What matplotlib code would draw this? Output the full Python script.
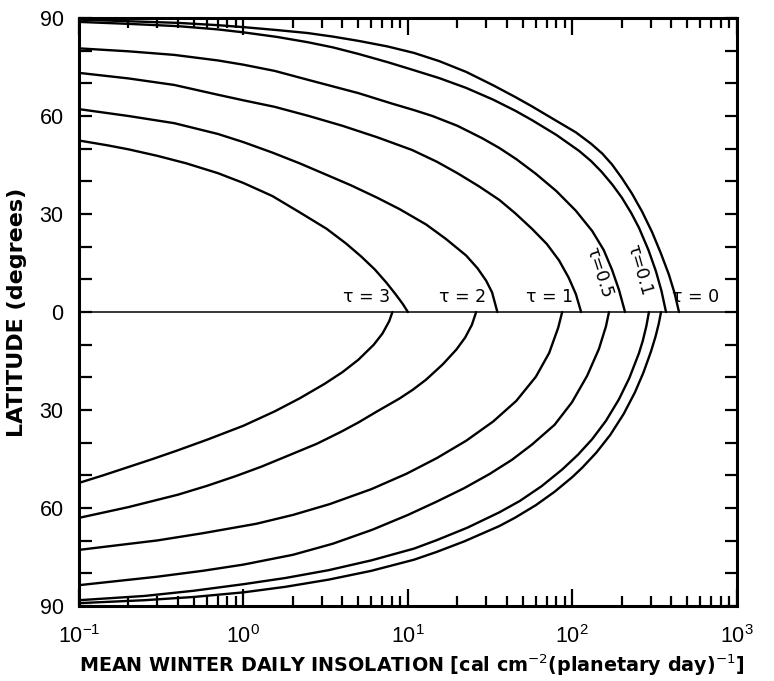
import matplotlib
matplotlib.use("Agg")
import matplotlib.pyplot as plt
from matplotlib.ticker import MultipleLocator, FuncFormatter, LogLocator

# northern (upper) branches: insolation vs latitude, one pair per optical depth
n3_x = [0.1, 0.15, 0.2, 0.3, 0.45, 0.7, 1.0, 1.5, 2.2, 3.2, 4.2, 5.2, 6.3, 7.4, 8.4, 9.3, 10]
n3_lat = [52.5, 51, 49.8, 47.8, 45.5, 42.5, 39.5, 35.5, 30.5, 25.5, 21, 17, 13, 9, 5.5, 2.5, 0]
n2_x = [0.1, 0.2, 0.38, 0.7, 1.0, 1.5, 2.2, 3.2, 4.5, 6.5, 8.9, 12.9, 17, 22.6, 26.5, 29.9, 32.5, 35]
n2_lat = [62.1, 60, 57.8, 54.5, 52, 48.8, 45.5, 42, 38.8, 35, 31.5, 26.8, 22.4, 17.3, 13.4, 9.6, 6, 0]
n1_x = [0.1, 0.2, 0.38, 0.7, 1.0, 1.55, 2.5, 4, 6.5, 10.6, 15, 20, 27, 36, 45, 57, 70, 83, 95, 105, 113]
n1_lat = [73.2, 71.5, 69.5, 66.5, 64.8, 62.8, 60, 57, 53.5, 49.6, 46, 42.5, 38.5, 34.3, 30.2, 25.4, 20.8,
          15.8, 10.5, 5.5, 0]
n05_x = [0.1, 0.2, 0.38, 0.7, 1.0, 1.55, 2.5, 5, 8, 10.9, 14.1, 20, 28.3, 36, 45.6, 60, 80, 105,
         132, 155, 174, 192, 209]
n05_lat = [80.7, 79.8, 78.7, 77, 75.7, 73.8, 71, 67, 63.8, 61.8, 60, 57, 53.2, 50.2, 46.8, 42.3, 37,
           31, 24.8, 19, 13, 6.8, 0]
n01_x = [0.1, 0.2, 0.4, 0.7, 1.0, 1.6, 2.45, 3.5, 5, 7.5, 10.9, 15.5, 22.6, 33, 45, 57, 80, 110,
         130, 150, 175, 200, 228, 254, 290, 322, 348, 371]
n01_lat = [88.8, 88.2, 87.5, 86.5, 85.6, 84.2, 82.6, 81, 79, 76.5, 74, 71.6, 68.6, 65, 61.6, 58.7,
           54.2, 49.3, 46.2, 43, 39, 35, 30.3, 25.8, 19, 12.5, 6.5, 0]
n0_x = [0.1, 0.2, 0.4, 0.7, 1.0, 1.6, 2.45, 3.5, 5, 7.5, 10.9, 15.5, 22.6, 33, 45, 57, 80, 105,
        130, 152, 174, 200, 230, 265, 305, 345, 386, 418, 445]
n0_lat = [89.5, 89, 88.5, 87.8, 87.2, 86.3, 85.4, 84.3, 83, 81.3, 79.3, 76.8, 73.5, 69.4, 65.8,
          62.9, 58.5, 55, 51.5, 48.5, 45.2, 41, 36.3, 30.8, 24.5, 18, 11.5, 5.8, 0]

# southern (lower) branches
s3_x = [8.05, 7.7, 7.0, 6.2, 5.0, 4.0, 3.11, 2.2, 1.55, 1.0, 0.607, 0.4, 0.28, 0.19, 0.14, 0.1]
s3_lat = [0, -2.8, -6.6, -10, -14.6, -18.4, -22, -26.4, -30.4, -34.8, -39, -42.3, -45, -47.8,
          -50, -52.3]
s2_x = [26, 24.5, 22.3, 19.7, 16.3, 12.9, 10.7, 8.87, 6.5, 5, 3.94, 2.8, 1.86, 1.29, 0.9, 0.6,
        0.4, 0.2, 0.1]
s2_lat = [0, -3.9, -7.8, -11.5, -16, -20.7, -23.8, -26.5, -30.4, -33.8, -36.6, -40.3, -44, -47.3,
          -50.2, -53.2, -55.9, -59.7, -63]
s1_x = [86.7, 82, 72.3, 60, 45.6, 33, 22.6, 15, 9.8, 6, 3.34, 2, 1.2, 0.566, 0.3, 0.1]
s1_lat = [0, -4.8, -12.5, -19.8, -27.2, -33.5, -39.4, -44.7, -49.5, -54.2, -58.8, -62.1, -64.8,
          -67.7, -69.9, -72.8]
s05_x = [167, 160, 145, 123, 99.5, 78, 57, 43, 31.3, 22, 15, 10, 6.1, 3.5, 2, 1.0, 0.566, 0.3, 0.1]
s05_lat = [0, -4.4, -11.3, -19.5, -27.6, -34.5, -40.5, -45.2, -49.6, -53.9, -58, -62.1, -66.6,
           -70.9, -74.3, -77.3, -79.2, -81, -83.6]
s01_x = [292, 282, 268, 254, 222, 192, 160, 132, 108, 86.7, 65, 48, 36, 23, 15, 10.9, 6, 3.3,
         1.8, 1.0, 0.5, 0.25, 0.1]
s01_lat = [0, -4.2, -8.8, -12.6, -20.2, -26.7, -33.3, -38.9, -43.7, -48.2, -53.3, -57.8, -61.3,
           -66, -69.8, -72.4, -76, -79, -81.4, -83.3, -85.3, -86.9, -88.2]
s0_x = [346, 335, 320, 300, 270, 240, 205, 170, 140, 115, 100, 78, 60, 45, 36, 22, 15, 10.9, 6,
        3.3, 1.8, 1.0, 0.5, 0.25, 0.1]
s0_lat = [0, -3.6, -7.6, -12.2, -18.6, -24.6, -31.2, -37.6, -43, -47.6, -50.5, -55, -59.1, -62.9,
          -65.5, -70.2, -73.4, -75.8, -79.2, -81.9, -84.1, -85.8, -87.2, -88.2, -89.1]

labels = ["τ = 3", "τ = 2", "τ = 1", "τ=0.5", "τ=0.1", "τ = 0"]
label_x = [5.6, 21.4, 72.3, 145, 254, 564]
label_lat = [4.6, 4.6, 4.6, 12, 12.9, 4.6]
label_rot = [0, 0, 0, -72, -74, 0]

fig = plt.figure(figsize=(7.74, 6.81), dpi=100)
ax = fig.add_axes([0.102, 0.110, 0.850, 0.8636])

curves = [(n3_x, n3_lat), (n2_x, n2_lat), (n1_x, n1_lat), (n05_x, n05_lat),
          (n01_x, n01_lat), (n0_x, n0_lat), (s3_x, s3_lat), (s2_x, s2_lat),
          (s1_x, s1_lat), (s05_x, s05_lat), (s01_x, s01_lat), (s0_x, s0_lat)]
for cx, cy in curves:
    ax.plot(cx, cy, color="black", lw=1.7, solid_capstyle="round", solid_joinstyle="round")

ax.axhline(0, color="black", lw=1.1)

for t, lx, ly, r in zip(labels, label_x, label_lat, label_rot):
    ax.text(lx, ly, t, fontsize=12.5, ha="center", va="center", rotation=r,
            family="DejaVu Sans")

ax.set_xscale("log")
ax.set_xlim(0.1, 1000)
ax.set_ylim(-90, 90)
ax.yaxis.set_major_locator(MultipleLocator(30))
ax.yaxis.set_minor_locator(MultipleLocator(10))
ax.yaxis.set_major_formatter(FuncFormatter(lambda v, p: "%d" % abs(v)))
ax.xaxis.set_minor_locator(LogLocator(base=10, subs=range(2, 10)))

for s in ax.spines.values():
    s.set_linewidth(2.2)
ax.tick_params(which="both", direction="in", top=True, right=True, width=1.6)
ax.tick_params(axis="x", which="major", length=12, pad=14, labelsize=15.5)
ax.tick_params(axis="x", which="minor", length=7)
ax.tick_params(axis="y", which="both", length=9, pad=11, labelsize=15.5)
for lab in ax.get_xticklabels() + ax.get_yticklabels():
    lab.set_family("Liberation Sans")

ax.set_xlabel("MEAN WINTER DAILY INSOLATION [cal cm$^{-2}$(planetary day)$^{-1}$]",
              fontsize=13.8, fontweight="bold")
ax.xaxis.set_label_coords(0.505, -0.079)
ax.set_ylabel("LATITUDE (degrees)", fontsize=16, fontweight="bold")
ax.yaxis.set_label_coords(-0.079, 0.5)

fig.savefig("out.png", dpi=100)
